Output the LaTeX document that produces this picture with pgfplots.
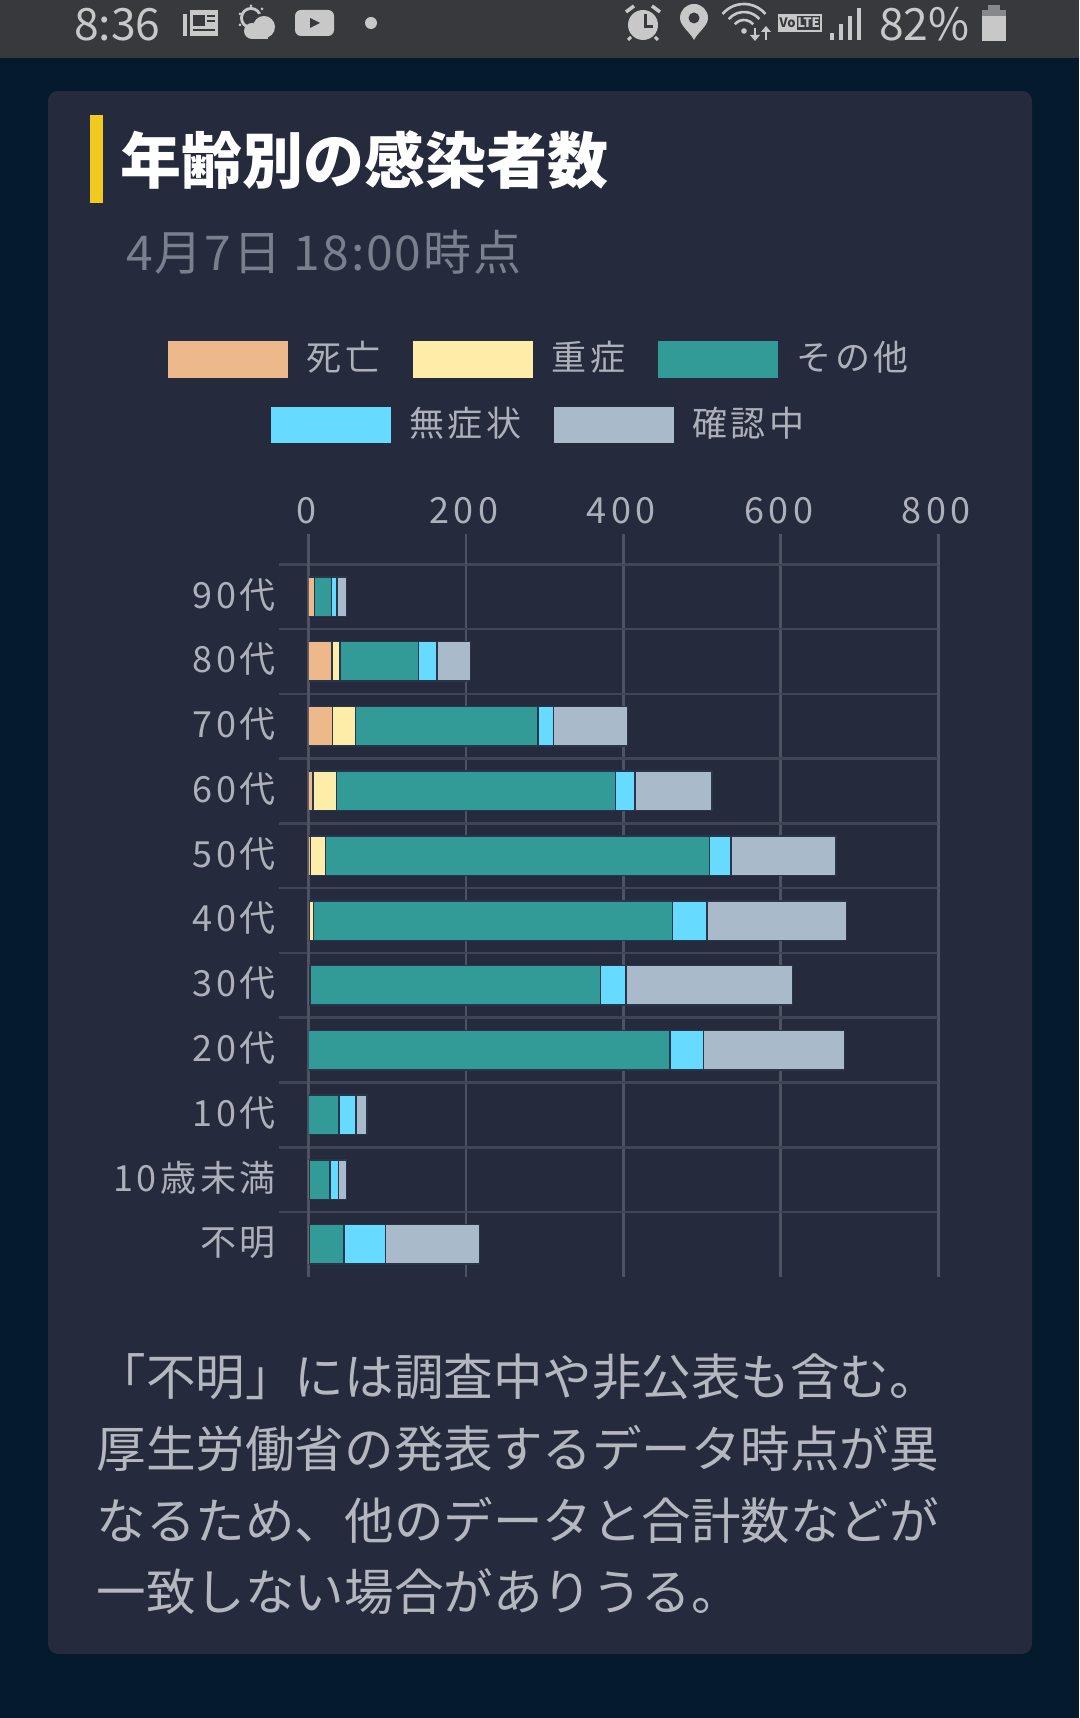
\documentclass[border=0pt]{standalone}
\usepackage{pgfplots}
\usepackage{pgfplotstable}
\usepackage{fontspec}
\pgfplotsset{compat=1.18}
\setmainfont{Noto Sans CJK JP}
\newfontfamily\lsf[LetterSpace=10]{Noto Sans CJK JP}
\newfontfamily\lsx[LetterSpace=12.5]{Noto Sans CJK JP}
\newfontfamily\lss[LetterSpace=4]{Noto Sans CJK JP}
\definecolor{bgc}{HTML}{051A2D}
\definecolor{cardc}{HTML}{252A3C}
\definecolor{statusc}{HTML}{38393D}
\definecolor{statust}{HTML}{C8C8C8}
\definecolor{yel}{HTML}{F0CA1E}
\definecolor{subt}{HTML}{7A7F8E}
\definecolor{labc}{HTML}{ADB0BA}
\definecolor{footc}{HTML}{B4B7C0}
\definecolor{vgrid}{HTML}{4F5361}
\definecolor{hgrid}{HTML}{414554}
\definecolor{zgrid}{HTML}{373A49}
\definecolor{edge}{HTML}{27364A}
\definecolor{cdeath}{HTML}{EDB98A}
\definecolor{csev}{HTML}{FEEDA8}
\definecolor{cother}{HTML}{329B98}
\definecolor{casym}{HTML}{66DAFF}
\definecolor{cconf}{HTML}{A9BACB}
\pgfplotstableread{
pos death sev other asym conf
10 7.5 0 22 7 12
9 30 10 100 23.5 42
8 30.5 29 232 20 94
7 5.5 30 354.5 24.5 98
6 2.5 19 488 27 133.5
5 1.5 5 456 44 177
4 1 1 369 32 212
3 0 0 459 43 179
2 0 0 38.5 22 13.5
1 0 1 26.5 10.5 10
0 0 1 44 53 119
}\agedata
\pgfplotsset{swatch/.style={legend image code/.code={\fill[#1] (0pt,-20pt) rectangle (118.5pt,15pt);}}}
\begin{document}
\begin{tikzpicture}
\useasboundingbox (0pt,0pt) rectangle (1079pt,1718pt);
\fill[bgc] (0pt,0pt) rectangle (1079pt,1718pt);
\begin{scope}[x=1pt,y=-1pt,shift={(0pt,1718pt)}]
\fill[statusc] (0,0) rectangle (1079,58);
\fill[cardc,rounded corners=10pt] (48,91) rectangle (1032,1654);
\fill[yel] (90,115) rectangle (102.5,203);
\node[anchor=base west,inner sep=0pt,text=white,font=\fontsize{61}{61}\selectfont\bfseries] at (120,184) {年齢別の感染者数};
\node[anchor=base west,inner sep=0pt,text=subt,font=\fontsize{48}{48}\selectfont\lss] at (126,270.5) {4月7日 18:00時点};
\foreach \yy/\tt in {1396/「不明」には調査中や非公表も含む。,1468/厚生労働省の発表するデータ時点が異,1540/なるため、他のデータと合計数などが,1611/一致しない場合がありうる。}{
  \node[anchor=base west,inner sep=0pt,text=footc,font=\fontsize{49.55}{50}\selectfont] at (96.5,\yy) {\tt};
}
% status bar
\node[anchor=base west,inner sep=0pt,text=statust,font=\fontsize{44.5}{44}\selectfont] at (74,41) {8:36};
\node[anchor=base west,inner sep=0pt,text=statust,font=\fontsize{44.5}{44}\selectfont] at (879,41) {82\%};
% news
\fill[statust] (183,14) rectangle (187,36);
\fill[statust] (190,10) rectangle (218,36);
\fill[statusc] (193,15) rectangle (205,26);
\fill[statusc] (207,15) rectangle (215,17);
\fill[statusc] (207,20) rectangle (215,22);
\fill[statusc] (193,29) rectangle (215,31);
% weather
\fill[statust] (251,18) circle[radius=11];
\fill[statust] (251,6) circle[radius=1.5];
\fill[statust] (240,14) circle[radius=1.5];
\fill[statust] (240,25) circle[radius=1.5];
\fill[statust] (262,9) circle[radius=1.5];
\fill[statusc] (251,18) circle[radius=8];
\fill[statusc] (264,26) circle[radius=13];
\fill[statust] (264,27) circle[radius=11];
\fill[statust] (252,31) circle[radius=8];
\fill[statust] (252,30) rectangle (268,39);
% youtube
\fill[statust,rounded corners=6pt] (295,10) rectangle (334,36);
\fill[statusc] (310,18) -- (310,28) -- (320,23) -- cycle;
\fill[statust] (371,23) circle[radius=6];
% alarm
\fill[statust] (643,25) circle[radius=15];
\draw[statust,line width=3.5pt] (626,12) -- (634,6);
\draw[statust,line width=3.5pt] (652,6) -- (660,12);
\draw[statust,line width=3pt] (631,37) -- (628,40);
\draw[statust,line width=3pt] (655,37) -- (658,40);
\draw[statusc,line width=3pt] (645,14) -- (645,27) -- (653,27);
% pin
\fill[statust] (694,40) .. controls (690,32) and (680,26) .. (680,18) arc[start angle=180,end angle=360,radius=14] .. controls (708,26) and (698,32) .. (694,40) -- cycle;
\fill[statusc] (694,18) circle[radius=5.5];
% wifi
\foreach \rr in {12,20,28}{
  \draw[statust,line width=2.6pt] (744,32) ++(-140:\rr) arc[start angle=-140,end angle=-40,radius=\rr];
}
\fill[statust] (744,31) circle[radius=2.8];
\draw[statust,line width=2.4pt] (755,28) -- (755,37);
\fill[statust] (750,35) -- (760,35) -- (755,41) -- cycle;
\draw[statust,line width=2.4pt] (766,31) -- (766,40);
\fill[statust] (761,32) -- (771,32) -- (766,26) -- cycle;
% volte
\fill[statust] (778,14) rectangle (822,32);
\fill[statusc] (797,16) rectangle (820,30);
\node[inner sep=0pt,text=statusc,font=\fontsize{13}{13}\selectfont\bfseries] at (787.5,23) {Vo};
\node[inner sep=0pt,text=statust,font=\fontsize{13}{13}\selectfont\bfseries] at (808.5,23) {LTE};
% signal
\fill[statust] (830,33) rectangle (833.5,40);
\fill[statust] (839,24) rectangle (842.5,40);
\fill[statust] (848,16) rectangle (851.5,40);
\fill[statust] (857,8) rectangle (860.5,40);
% battery
\fill[statust!55!statusc] (988,5) rectangle (1000,10);
\fill[statust!55!statusc] (982,10) rectangle (1006,16);
\fill[statust] (982,16) rectangle (1006,41);
\end{scope}
% main chart
\begin{axis}[
  at={(308.5pt,441pt)},anchor=south west,
  scale only axis,width=629.8pt,height=712.7pt,
  xbar stacked,bar width=39.5pt,
  xmin=0,xmax=800,ymin=-0.5035,ymax=10.5,
  axis line style={draw=none},
  xtick={200,400,600,800},
  extra x ticks={0},
  extra x tick style={major grid style={draw=zgrid,line width=2.6pt},major tick style={draw=zgrid,line width=2.6pt}},
  xticklabel pos=upper,xtick pos=upper,
  ytick={0,...,10},
  yticklabels={不明,10歳未満,10代,20代,30代,40代,50代,60代,70代,80代,90代},
  minor ytick={0.5,1.5,...,10.5},
  ytick pos=left,
  tick align=outside,
  major tick length=30.3pt,
  minor tick length=29.5pt,
  xmajorgrids,yminorgrids,
  major x grid style={draw=vgrid,line width=2.8pt},
  minor y grid style={draw=hgrid,line width=2.6pt},
  major x tick style={draw=vgrid,line width=2.8pt},
  minor y tick style={draw=hgrid,line width=2.6pt},
  major y tick style={draw=none},
  xticklabel style={font=\fontsize{36}{36}\selectfont\lsx,text=labc,inner sep=0pt,yshift=9.5pt,xshift=-2pt},
  yticklabel style={font=\fontsize{36}{36}\selectfont\lsf,text=labc,inner sep=0pt,anchor=east,xshift=-2.3pt,yshift=2pt},
  /pgf/number format/assume math mode=true,
  legend columns=3,
  legend cell align=left,
  legend style={at={(-0.2231,1.3133)},anchor=north west,draw=none,fill=none,inner sep=0pt,
    nodes={inner sep=0pt,text=labc,font=\fontsize{35}{35}\selectfont\lsf},
    /tikz/every odd column/.append style={column sep=18.5pt},
    /tikz/every even column/.append style={column sep=33pt}},
  every axis plot/.append style={draw=edge,line width=1.5pt},
]
\addplot[fill=cdeath,swatch=cdeath] table[x=death,y=pos] {\agedata};
\addlegendentry{死亡}
\addplot[fill=csev,swatch=csev] table[x=sev,y=pos] {\agedata};
\addlegendentry{重症}
\addplot[fill=cother,swatch=cother] table[x=other,y=pos] {\agedata};
\addlegendentry{その他}
\addplot[fill=casym,forget plot] table[x=asym,y=pos] {\agedata};
\addplot[fill=cconf,forget plot] table[x=conf,y=pos] {\agedata};
\end{axis}
% second legend row
\begin{axis}[
  at={(308.5pt,441pt)},anchor=south west,
  scale only axis,width=629.8pt,height=712.7pt,
  xmin=0,xmax=800,ymin=-0.5035,ymax=10.5,
  hide axis,
  legend columns=2,
  legend cell align=left,
  legend style={at={(-0.0595,1.2207)},anchor=north west,draw=none,fill=none,inner sep=0pt,
    nodes={inner sep=0pt,text=labc,font=\fontsize{35}{35}\selectfont\lsf},
    /tikz/every odd column/.append style={column sep=19pt},
    /tikz/every even column/.append style={column sep=33pt}},
]
\addlegendimage{swatch=casym}
\addlegendentry{無症状}
\addlegendimage{swatch=cconf}
\addlegendentry{確認中}
\end{axis}
\end{tikzpicture}
\end{document}
